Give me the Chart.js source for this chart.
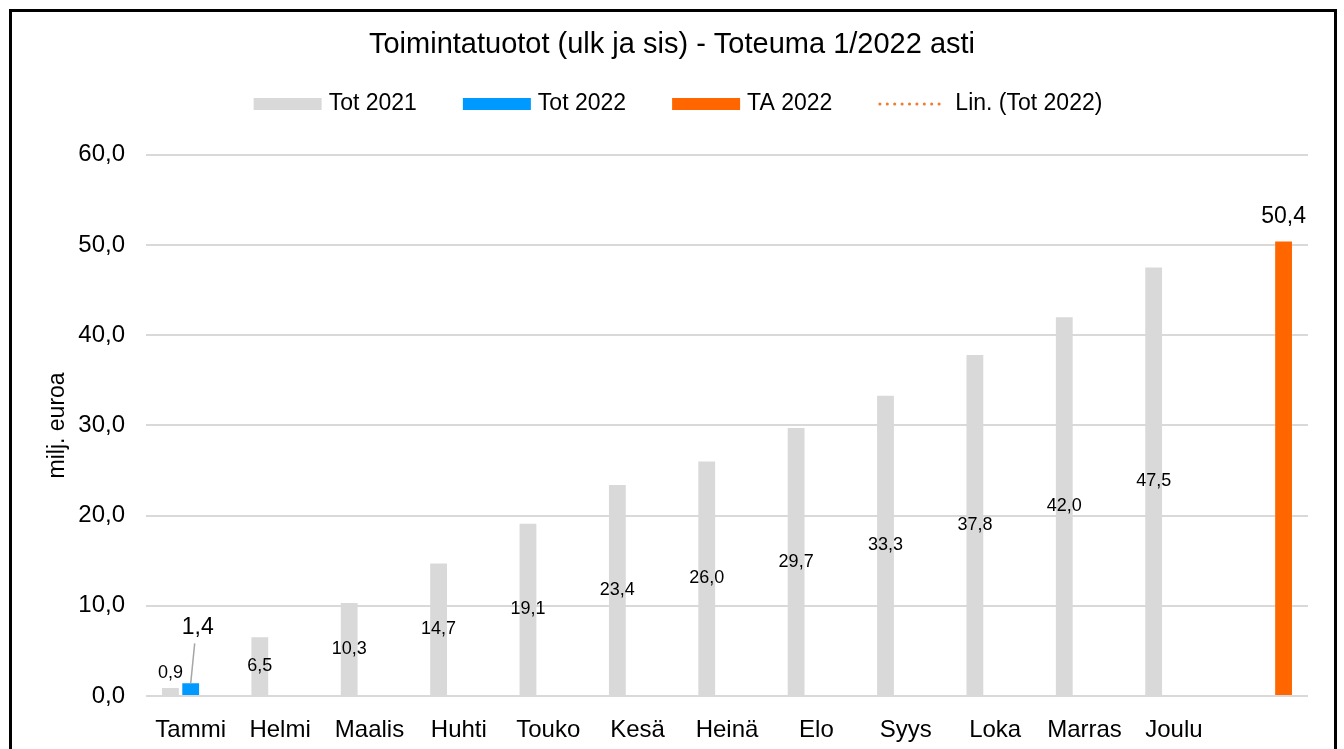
<!DOCTYPE html>
<html>
<head>
<meta charset="utf-8">
<title>Toimintatuotot</title>
<script src="https://cdn.jsdelivr.net/npm/chart.js@4.4.0/dist/chart.umd.min.js"></script>
<style>
  html, body { margin: 0; padding: 0; background: #fff; overflow: hidden; }
  #wrap { position: relative; width: 1344px; height: 749px; }
  #frame {
    position: absolute; left: 9px; top: 9px; width: 1328px; height: 800px;
    border: 3px solid #000; box-sizing: border-box; pointer-events: none;
  }
</style>
</head>
<body>
<div id="wrap">
  <canvas id="chart" width="1344" height="749"></canvas>
  <div id="frame"></div>
</div>
<script>
// Kuukaudet (viimeinen sarake = TA 2022)
const months = ["Tammi", "Helmi", "Maalis", "Huhti", "Touko", "Kesä", "Heinä", "Elo", "Syys", "Loka", "Marras", "Joulu", ""];
// Toteuma 2021 kumulatiivisena, milj. euroa
const tot2021 = [0.9, 6.5, 10.3, 14.7, 19.1, 23.4, 26.0, 29.7, 33.3, 37.8, 42.0, 47.5, null];
// Toteuma 2022
const tot2022 = [1.4, null, null, null, null, null, null, null, null, null, null, null, null];
// Talousarvio 2022
const ta2022 = [null, null, null, null, null, null, null, null, null, null, null, null, 50.4];
// Trendiviiva (yhdestä pisteestä ei piirry mitään)
const trend2022 = [null, null, null, null, null, null, null, null, null, null, null, null, null];
// y-akselin jaotus
const yMin = 0;
const yMax = 60;
const yStep = 10;

const FONT = "'Liberation Sans', Arial, sans-serif";

function fmt(v) {
    return v.toFixed(1).replace(".", ",");
}

// Oma selite (laatikot + pisteviiva)
const legendPlugin = {
    id: "customLegend",
    afterDraw(chart, args, opts) {
        const ctx = chart.ctx;
        ctx.save();
        ctx.font = opts.size + "px " + FONT;
        ctx.textBaseline = "middle";
        const items = chart.data.datasets.map((ds) => ({
            text: ds.label,
            line: ds.type === "line",
            color: ds.type === "line" ? ds.borderColor : ds.backgroundColor,
        }));
        const widths = items.map((it) =>
            (it.line ? opts.lineWidth + opts.lineGap : opts.boxWidth + opts.boxGap) + ctx.measureText(it.text).width
        );
        const total = widths.reduce((a, b) => a + b, 0) + opts.itemGap * (items.length - 1);
        let x = opts.centerX - total / 2;
        const y = opts.y;
        items.forEach((it, i) => {
            if (it.line) {
                ctx.strokeStyle = it.color;
                ctx.lineWidth = 3;
                ctx.lineCap = "round";
                ctx.setLineDash([0.1, 7.3]);
                ctx.beginPath();
                ctx.moveTo(x + 1.5, y);
                ctx.lineTo(x + opts.lineWidth, y);
                ctx.stroke();
                ctx.setLineDash([]);
                ctx.fillStyle = "#000";
                ctx.fillText(it.text, x + opts.lineWidth + opts.lineGap, y);
            } else {
                ctx.fillStyle = it.color;
                ctx.fillRect(x, y - opts.boxHeight / 2, opts.boxWidth, opts.boxHeight);
                ctx.fillStyle = "#000";
                ctx.fillText(it.text, x + opts.boxWidth + opts.boxGap, y);
            }
            x += widths[i] + opts.itemGap;
        });
        ctx.restore();
    },
};

// Arvot pylväisiin
const labelPlugin = {
    id: "barLabels",
    afterDatasetsDraw(chart) {
        const ctx = chart.ctx;
        ctx.save();
        ctx.textAlign = "center";
        ctx.textBaseline = "middle";
        chart.data.datasets.forEach((ds, i) => {
            const cfg = ds.valueLabel;
            if (!cfg) return;
            const meta = chart.getDatasetMeta(i);
            meta.data.forEach((bar, j) => {
                const v = ds.data[j];
                if (v == null) return;
                ctx.font = cfg.size + "px " + FONT;
                ctx.fillStyle = "#000";
                let x = bar.x;
                let y;
                if (cfg.position === "center") {
                    y = (bar.y + bar.base) / 2;
                    if (bar.base - bar.y < cfg.minHeight) y = bar.y - cfg.above;
                } else if (cfg.position === "callout") {
                    x = bar.x + cfg.dx;
                    y = bar.y + cfg.dy;
                    const t = 16 / Math.abs(cfg.dy);
                    ctx.strokeStyle = "#a6a6a6";
                    ctx.lineWidth = 1.5;
                    ctx.beginPath();
                    ctx.moveTo(x - cfg.dx * t - 1, y - cfg.dy * t);
                    ctx.lineTo(bar.x, bar.y);
                    ctx.stroke();
                } else {
                    y = bar.y - cfg.above;
                }
                ctx.fillText(fmt(v), x, y);
            });
        });
        ctx.restore();
    },
};

const chart = new Chart(document.getElementById("chart"), {
    type: "bar",
    data: {
        labels: months,
        datasets: [
            {
                label: "Tot 2021",
                data: tot2021,
                backgroundColor: "#d9d9d9",
                categoryPercentage: 0.68,
                barPercentage: 0.83,
                valueLabel: { position: "center", size: 18, minHeight: 20, above: 15 },
            },
            {
                label: "Tot 2022",
                data: tot2022,
                backgroundColor: "#0099ff",
                categoryPercentage: 0.68,
                barPercentage: 0.83,
                valueLabel: { position: "callout", size: 23, dx: 7, dy: -56 },
            },
            {
                label: "TA 2022",
                data: ta2022,
                backgroundColor: "#ff6600",
                categoryPercentage: 0.68,
                barPercentage: 0.83,
                valueLabel: { position: "top", size: 23, above: 25 },
            },
            {
                type: "line",
                label: "Lin. (Tot 2022)",
                data: trend2022,
                borderColor: "#ed7d31",
                borderDash: [2, 4],
                borderWidth: 2,
                pointRadius: 0,
            },
        ],
    },
    options: {
        responsive: false,
        animation: false,
        devicePixelRatio: 1,
        layout: { padding: { left: 0, right: 0, top: 0, bottom: 0 } },
        plugins: {
            legend: { display: false },
            tooltip: { enabled: false },
            title: {
                display: true,
                text: "Toimintatuotot (ulk ja sis) - Toteuma 1/2022 asti",
                color: "#000",
                font: { family: FONT, size: 29, weight: "normal", lineHeight: 1.2 },
                padding: { top: 28, bottom: 92 },
            },
            customLegend: {
                size: 23, y: 104, centerX: 678,
                boxWidth: 68, boxHeight: 12, boxGap: 7,
                lineWidth: 66, lineGap: 11, itemGap: 46,
            },
        },
        scales: {
            x: {
                grid: { display: false },
                border: { display: false },
                ticks: { color: "#000", font: { family: FONT, size: 24 }, padding: 12, maxRotation: 0, autoSkip: false },
                afterFit: (scale) => { scale.height = 53; },
            },
            y: {
                min: yMin,
                max: yMax,
                grid: { color: "#d9d9d9", lineWidth: 2, drawTicks: false },
                border: { display: false },
                ticks: {
                    stepSize: yStep,
                    color: "#000",
                    padding: 21,
                    font: { family: FONT, size: 24 },
                    callback: (v) => fmt(v),
                },
                title: {
                    display: true,
                    text: "milj. euroa",
                    color: "#000",
                    font: { family: FONT, size: 23 },
                    padding: { top: 44, bottom: 0 },
                },
                afterFit: (scale) => { scale.width = 146; },
            },
            // tyhjä oikea reuna, jotta otsikko keskittyy koko kuvaan
            yRight: {
                position: "right",
                display: true,
                grid: { display: false },
                border: { display: false },
                ticks: { display: false },
                afterFit: (scale) => { scale.width = 36; },
            },
        },
    },
    plugins: [legendPlugin, labelPlugin],
});
</script>
</body>
</html>
